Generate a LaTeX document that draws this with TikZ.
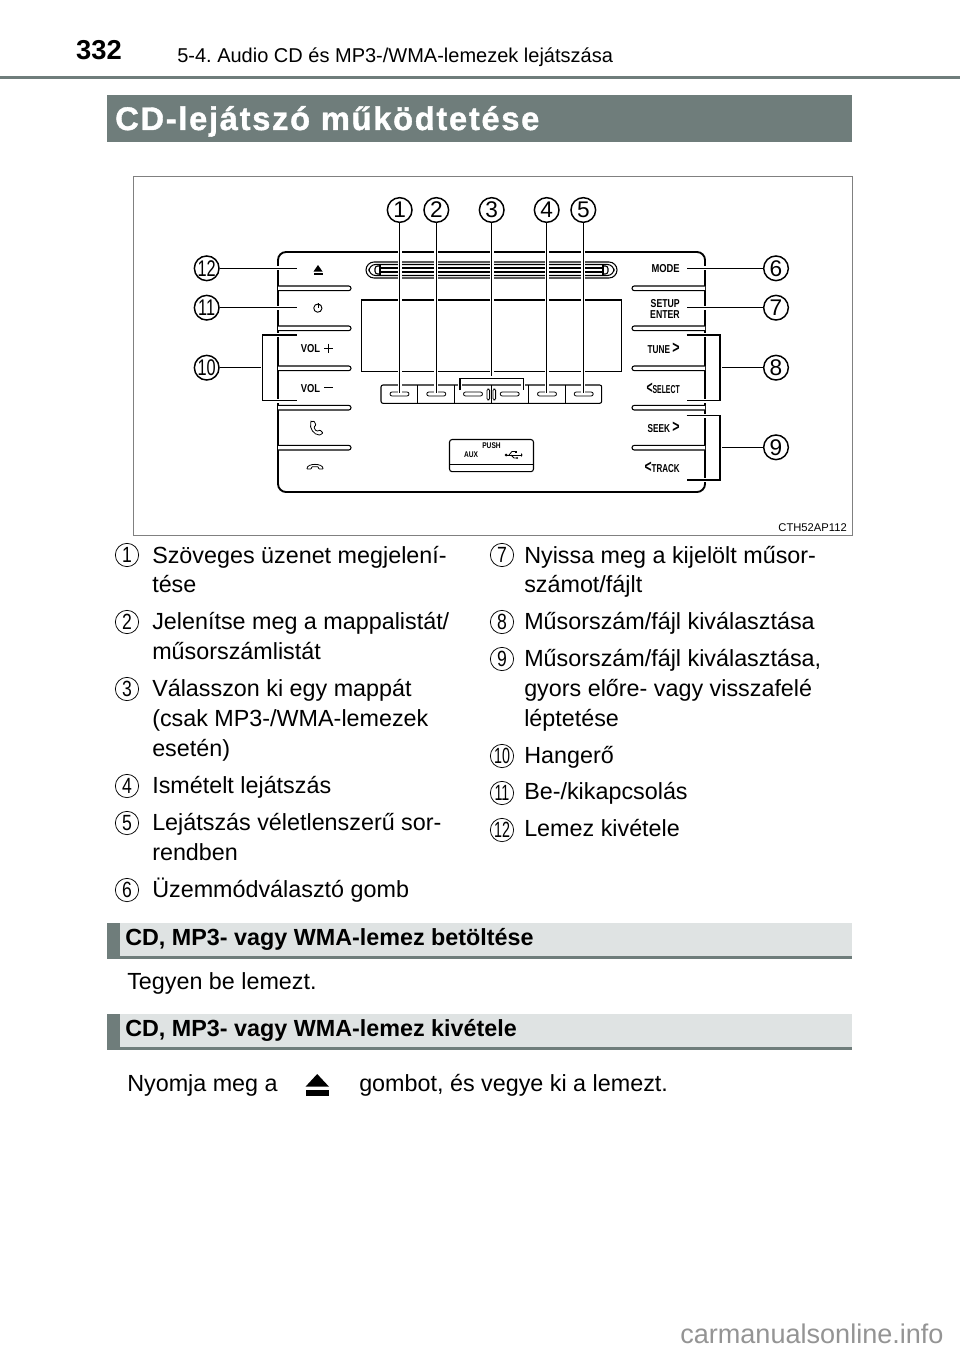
\documentclass[tikz,border=0pt]{standalone}
\usepackage{fontspec}
\setmainfont{Liberation Sans}
\frenchspacing
\definecolor{barc}{HTML}{6F7D7B}
\definecolor{secc}{HTML}{DFE3E3}
\definecolor{framec}{HTML}{808080}
\newcommand{\fs}[1]{\fontsize{#1}{#1}\selectfont}
\newcommand{\nar}[2]{\scalebox{#1}[1]{#2}}
\tikzset{
  leader/.style={line width=0.95pt, preaction={draw=white,line width=3pt}},
  panelline/.style={line width=1.4pt},
  thinline/.style={line width=0.8pt},
  callout/.style={circle,draw,fill=white,line width=1.1pt,minimum size=18.5pt,inner sep=0pt,font=\fs{17}},
  legnum/.style={circle,draw,line width=0.55pt,minimum size=17.5pt,inner sep=0pt,font=\fs{16.5}},
  body/.style={anchor=base west,inner sep=0pt,font=\fs{17.5}},
  paneltxt/.style={inner sep=0pt,font=\bfseries\fs{8.6}},
  sectitle/.style={anchor=base west,inner sep=0pt,font=\bfseries\fs{17.5}},
}
\begin{document}
\begin{tikzpicture}[x=0.75pt,y=-0.75pt]
\useasboundingbox (0,0) rectangle (960,1352);
\fill[white] (0,0) rectangle (960,1352);
% header
\node[anchor=base,inner sep=0pt,font=\bfseries\fs{20.5}] (pageno) at (99,60) {332};
\node[anchor=base west,inner sep=0pt,font=\fs{15}] (headtxt) at (177,63) {5-4. Audio CD és MP3-/WMA-lemezek lejátszása};
\fill[barc] (0,76) rectangle (960,79.3);
\fill[barc] (107,95) rectangle (852,142);
\node[anchor=base west,inner sep=0pt,text=white,font=\bfseries\fs{24.5}] (title) at (115,130) {\addfontfeature{LetterSpace=5.2,FakeBold=1.2}CD-lejátszó működtetése};
% frame
\draw[framec,line width=0.6pt] (133,176) rectangle (852,535);
\node[anchor=base east,inner sep=0pt,font=\fs{8.4}] (code) at (847,531) {CTH52AP112};
% panel
\draw[panelline,rounded corners=6pt] (278,252) rectangle (705,492);
\foreach \y in {288.3,328.3,368.3,407.7,447.7}{
  \draw[thinline,rounded corners=1.7pt,fill=white] (278,\y-2.3) -- (351,\y-2.3) -- (351,\y+2.3) -- (278,\y+2.3);
  \draw[thinline,rounded corners=1.7pt,fill=white] (705,\y-2.3) -- (632,\y-2.3) -- (632,\y+2.3) -- (705,\y+2.3);
}
% slot
\draw[thinline,rounded corners=6pt] (366,262) rectangle (617,278);
\draw[thinline,rounded corners=5pt] (369,264.5) rectangle (614,275.5);
\foreach \y in {268,272}{\draw[thinline] (380,\y) -- (603,\y);}
\draw[thinline] (380,264.5) -- (380,275.5) (603,264.5) -- (603,275.5);
\draw[thinline,rounded corners=2pt] (380,266) -- (375,266) -- (375,274) -- (380,274);
\draw[thinline,rounded corners=2pt] (603,266) -- (608,266) -- (608,274) -- (603,274);
% screen
\draw[thinline] (361.5,300) rectangle (621.5,371.7);
% button row
\draw[thinline,rounded corners=1.5pt] (381,385) rectangle (601.7,403.3);
\foreach \x in {417.7,454.7,491.3,528.3,565.3}{\draw[thinline] (\x,385) -- (\x,403.3);}
\foreach \x in {399.5,436.3,473,509.7,547,583.7}{
  \draw[line width=0.6pt,rounded corners=1.5pt] (\x-9.5,392) rectangle (\x+9.5,396);
}
\foreach \x in {488.3,494.3}{
  \draw[line width=0.6pt,rounded corners=1pt] (\x-1.3,389) rectangle (\x+1.3,400);
}
% usb box
\draw[thinline,rounded corners=2pt] (449.5,439.5) rectangle (533.5,471.7);
\draw[line width=0.5pt] (449.5,464) -- (533.5,464);
\node[paneltxt,font=\bfseries\fs{6.2}] (push) at (491.5,445.5) {\nar{.8}{PUSH}};
\node[paneltxt,font=\bfseries\fs{6.2}] (aux) at (471,455) {\nar{.8}{AUX}};
\fill (506,455) circle (1.5);
\draw[line width=0.6pt] (506,455) -- (521,455);
\draw[line width=0.6pt] (509,455) -- (512,451.5) -- (515,451.5);
\draw[line width=0.6pt] (511,455) -- (514,458) -- (517,458);
\fill (521,453) -- (522.5,455) -- (521,457) -- cycle;
\fill (515,450.5) rectangle (517,452.5);
\fill (517,458) circle (1);
% left panel labels
\fill (318,265) -- (322.5,271.5) -- (313.5,271.5) -- cycle;
\fill (313.5,272.8) rectangle (322.5,274.5);
\draw[line width=0.7pt] (315.2,305) arc[start angle=130,end angle=-310,x radius=4.1,y radius=-4.1];
\draw[line width=0.7pt] (318,303) -- (318,308);
\node[paneltxt] (vp) at (310.5,348.5) {\nar{.82}{VOL}};
\draw[line width=0.7pt] (324,348) -- (332.5,348) (328.2,343.5) -- (328.2,352.5);
\node[paneltxt] (vm) at (310.5,388.5) {\nar{.82}{VOL}};
\draw[line width=0.9pt] (324,387.5) -- (332.5,387.5);
\draw[line width=0.6pt,rounded corners=0.6pt] (311,422) -- (314,421) -- (316,425) -- (314,427) .. controls (315,430) and (316,431) .. (318,431) -- (320,430) -- (323,433) -- (320,435) .. controls (314,435) and (309,428) .. cycle;
\draw[line width=0.6pt,rounded corners=0.4pt] (307,469) .. controls (307,463) and (323,463) .. (323,469) -- (319,469) -- (318,466.8) .. controls (315,466) and (315,466) .. (312,466.8) -- (311,469) -- cycle;
% right panel labels
\node[paneltxt,anchor=east] (mode) at (680,269) {\nar{.82}{MODE}};
\node[paneltxt,anchor=east] (setup) at (680,303.5) {\nar{.76}{SETUP}};
\node[paneltxt,anchor=east] (enter) at (680,314.5) {\nar{.76}{ENTER}};
\node[paneltxt,anchor=east] (tune) at (680,348.5) {\nar{.72}{TUNE \fs{13}>}};
\node[paneltxt,anchor=east] (select) at (680,388) {\nar{.6}{\fs{13}<\fs{8.6}SELECT}};
\node[paneltxt,anchor=east] (seek) at (680,427.5) {\nar{.72}{SEEK \fs{13}>}};
\node[paneltxt,anchor=east] (track) at (680,467) {\nar{.7}{\fs{13}<\fs{8.6}TRACK}};
% callouts
\node[callout] (n1) at (399.7,210) {1};
\node[callout] (n2) at (436.3,210) {2};
\node[callout] (n3) at (491.7,210) {3};
\node[callout] (n4) at (546.7,210) {4};
\node[callout] (n5) at (583.3,210) {5};
\node[callout] (n6) at (776,268.3) {6};
\node[callout] (n7) at (776,307.7) {7};
\node[callout] (n8) at (776,367.7) {8};
\node[callout] (n9) at (776,447.3) {9};
\node[callout] (n10) at (206.7,367.7) {\nar{.72}{10}};
\node[callout] (n11) at (206.7,307.7) {\nar{.72}{11}};
\node[callout] (n12) at (206.7,268.3) {\nar{.72}{12}};
\coordinate (e1) at (399.7,393);
\coordinate (e2) at (436.3,393);
\coordinate (e3) at (491.7,378.3);
\coordinate (e4) at (546.7,393);
\coordinate (e5) at (583.3,393);
\coordinate (e6) at (686.7,268.3);
\coordinate (e7) at (686.7,307.7);
\coordinate (e11) at (296.7,307.7);
\coordinate (e12) at (296.7,268.3);
\draw[leader] (n1) -- (e1);
\draw[leader] (n2) -- (e2);
\draw[leader] (n4) -- (e4);
\draw[leader] (n5) -- (e5);
\draw[leader] (n3) -- (e3);
\coordinate (b3a) at (460,390);
\coordinate (b3b) at (460,378.3);
\coordinate (b3c) at (523.3,378.3);
\coordinate (b3d) at (523.3,390);
\draw[leader] (b3a) -- (b3b) -- (b3c) -- (b3d);
\draw[leader] (n6) -- (e6);
\draw[leader] (n7) -- (e7);
\draw[leader] (n11) -- (e11);
\draw[leader] (n12) -- (e12);
% brackets
\coordinate (b10j) at (262.7,367.7);
\coordinate (b10a) at (296.7,335);
\coordinate (b10b) at (262.7,335);
\coordinate (b10c) at (262.7,400.7);
\coordinate (b10d) at (296.7,400.7);
\draw[leader] (n10) -- (b10j);
\draw[leader] (b10a) -- (b10b) -- (b10c) -- (b10d);
\coordinate (b8j) at (720,367.7);
\coordinate (b8a) at (686.7,335);
\coordinate (b8b) at (720,335);
\coordinate (b8c) at (720,400.7);
\coordinate (b8d) at (686.7,400.7);
\draw[leader] (n8) -- (b8j);
\draw[leader] (b8a) -- (b8b) -- (b8c) -- (b8d);
\coordinate (b9j) at (720,447.3);
\coordinate (b9a) at (686.7,415.7);
\coordinate (b9b) at (720,415.7);
\coordinate (b9c) at (720,480);
\coordinate (b9d) at (686.7,480);
\draw[leader] (n9) -- (b9j);
\draw[leader] (b9a) -- (b9b) -- (b9c) -- (b9d);
% legend left
\node[legnum] (l1) at (127,555) {\nar{.8}{1}};
\node[body] (t1a) at (152,563) {Szöveges üzenet megjelení-};
\node[body] (t1b) at (152,592.5) {tése};
\node[legnum] (l2) at (127,622) {\nar{.8}{2}};
\node[body] (t2a) at (152,629.5) {Jelenítse meg a mappalistát/};
\node[body] (t2b) at (152,659.5) {műsorszámlistát};
\node[legnum] (l3) at (127,689) {\nar{.8}{3}};
\node[body] (t3a) at (152,696.5) {Válasszon ki egy mappát};
\node[body] (t3b) at (152,726.5) {(csak MP3-/WMA-lemezek};
\node[body] (t3c) at (152,756.5) {esetén)};
\node[legnum] (l4) at (127,786) {\nar{.8}{4}};
\node[body] (t4a) at (152,793.5) {Ismételt lejátszás};
\node[legnum] (l5) at (127,823) {\nar{.8}{5}};
\node[body] (t5a) at (152,830.5) {Lejátszás véletlenszerű sor-};
\node[body] (t5b) at (152,860.5) {rendben};
\node[legnum] (l6) at (127,890) {\nar{.8}{6}};
\node[body] (t6a) at (152,897.5) {Üzemmódválasztó gomb};
% legend right
\node[legnum] (l7) at (502,555) {\nar{.8}{7}};
\node[body] (t7a) at (524,563) {Nyissa meg a kijelölt műsor-};
\node[body] (t7b) at (524,592.5) {számot/fájlt};
\node[legnum] (l8) at (502,622) {\nar{.8}{8}};
\node[body] (t8a) at (524,629.5) {Műsorszám/fájl kiválasztása};
\node[legnum] (l9) at (502,659) {\nar{.8}{9}};
\node[body] (t9a) at (524,666.5) {Műsorszám/fájl kiválasztása,};
\node[body] (t9b) at (524,696.5) {gyors előre- vagy visszafelé};
\node[body] (t9c) at (524,726.5) {léptetése};
\node[legnum] (l10) at (502,756) {\nar{.65}{10}};
\node[body] (t10a) at (524,763) {Hangerő};
\node[legnum] (l11) at (502,793) {\nar{.65}{11}};
\node[body] (t11a) at (524,799.5) {Be-/kikapcsolás};
\node[legnum] (l12) at (502,830) {\nar{.65}{12}};
\node[body] (t12a) at (524,836.5) {Lemez kivétele};
% sections
\fill[secc] (107,923) rectangle (852,958);
\fill[barc] (107,923) rectangle (120,958);
\fill[barc] (107,956) rectangle (852,958.5);
\node[sectitle] (s1) at (125,945.5) {CD, MP3- vagy WMA-lemez betöltése};
\node[body] (s1t) at (127,989.5) {Tegyen be lemezt.};
\fill[secc] (107,1014) rectangle (852,1049);
\fill[barc] (107,1014) rectangle (120,1049.5);
\fill[barc] (107,1047) rectangle (852,1049.5);
\node[sectitle] (s2) at (125,1036.5) {CD, MP3- vagy WMA-lemez kivétele};
\node[body] (s2a) at (127,1091.5) {Nyomja meg a};
\fill (317.2,1074) -- (329,1086.7) -- (305.5,1086.7) -- cycle;
\fill (305.5,1090) rectangle (329,1096);
\node[body] (s2b) at (359,1091.5) {gombot, és vegye ki a lemezt.};
% footer mark
\node[anchor=base west,inner sep=0pt,text=black!42,font=\fs{20.3}] (mark) at (680,1343) {carmanualsonline.info};
\end{tikzpicture}
\end{document}
